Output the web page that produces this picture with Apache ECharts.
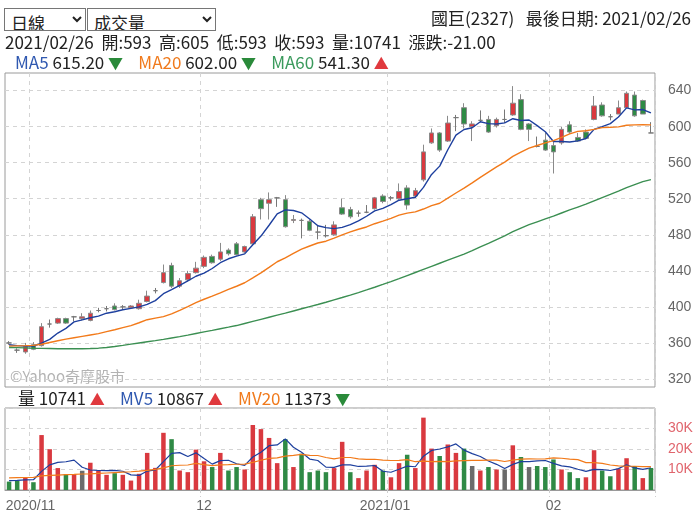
<!DOCTYPE html>
<html><head><meta charset="utf-8">
<script src="https://cdn.jsdelivr.net/npm/echarts@6/dist/echarts.min.js"></script>
<style>
html,body{margin:0;padding:0;background:#fff;}
body{width:700px;height:522px;overflow:hidden;position:relative;font-family:"Noto Sans CJK TC","Liberation Sans",sans-serif;color:#222;}
#chart{position:absolute;left:0;top:0;width:700px;height:522px;}
.hdr{position:absolute;white-space:nowrap;font-size:17px;line-height:20px;}
select{position:absolute;top:8px;height:23px;font-size:17px;font-family:"Noto Sans CJK TC",sans-serif;border:1px solid #767676;background:#fff;color:#222;padding:0 2px;}
.b{color:#2f58b0}.o{color:#f07a1c}.g{color:#3a9a5c}.dn{color:#2a8a3a;font-size:15px}.up{color:#e0393e;font-size:15px}
</style></head>
<body>
<div id="chart"></div>
<select style="left:4px;width:82px;"><option>日線</option></select>
<select style="left:87px;width:129px;"><option>成交量</option></select>
<div class="hdr" style="right:9px;top:8px;">國巨(2327)&nbsp;&nbsp; 最後日期: 2021/02/26</div>
<div class="hdr" style="left:5px;top:32px;">2021/02/26&nbsp; 開:593&nbsp; 高:605&nbsp; 低:593&nbsp; 收:593&nbsp; 量:10741&nbsp; 漲跌:-21.00</div>
<div class="hdr" style="left:15px;top:52px;"><span class="b">MA5</span> 615.20 <span class="dn">▼</span>&nbsp;&nbsp;&nbsp; <span class="o">MA20</span> 602.00 <span class="dn">▼</span>&nbsp;&nbsp;&nbsp; <span class="g">MA60</span> 541.30 <span class="up">▲</span></div>
<div class="hdr" style="left:18px;top:388px;">量 10741 <span class="up">▲</span>&nbsp;&nbsp;&nbsp; <span class="b">MV5</span> 10867 <span class="up">▲</span>&nbsp;&nbsp;&nbsp; <span class="o">MV20</span> 11373 <span class="dn">▼</span></div>
<script>
const dates = ['2020/10/28','2020/10/29','2020/10/30',
'2020/11/02','2020/11/03','2020/11/04','2020/11/05','2020/11/06','2020/11/09','2020/11/10','2020/11/11','2020/11/12','2020/11/13',
'2020/11/16','2020/11/17','2020/11/18','2020/11/19','2020/11/20','2020/11/23','2020/11/24','2020/11/25','2020/11/26','2020/11/27','2020/11/30',
'2020/12/01','2020/12/02','2020/12/03','2020/12/04','2020/12/07','2020/12/08','2020/12/09','2020/12/10','2020/12/11',
'2020/12/14','2020/12/15','2020/12/16','2020/12/17','2020/12/18','2020/12/21','2020/12/22','2020/12/23','2020/12/24','2020/12/25',
'2020/12/28','2020/12/29','2020/12/30','2020/12/31',
'2021/01/04','2021/01/05','2021/01/06','2021/01/07','2021/01/08','2021/01/11','2021/01/12','2021/01/13','2021/01/14','2021/01/15',
'2021/01/18','2021/01/19','2021/01/20','2021/01/21','2021/01/22','2021/01/25','2021/01/26','2021/01/27','2021/01/28','2021/01/29',
'2021/02/01','2021/02/02','2021/02/03','2021/02/04','2021/02/05','2021/02/17','2021/02/18','2021/02/19',
'2021/02/22','2021/02/23','2021/02/24','2021/02/25','2021/02/26'];

const opens  = [360,352,350,358,357,381,382,387,389,387,385,396,398,401,400,399,398,406,418,427,
                446,423,430,438,445,456,453,463,470,461,470,519,515,521,519,496,496,495,483,479,
                480,510,508,504,505,509,523,521,520,532,523,541,582,593,584,610,621,600,607,608,
                601,608,613,630,603,578,585,579,582,602,588,594,608,624,611,614,621,635,629,593];
const closes = [360,352,356,353,378,381,387,382,389,389,393,396,398,397,400,401,404,412,418,438,
                423,429,437,443,455,449,461,459,458,467,500,509,519,521,489,497,496,485,483,479,
                491,503,500,504,505,521,517,521,528,513,529,572,593,574,604,610,603,603,607,594,
                608,608,626,597,597,578,574,572,597,594,584,587,623,612,611,621,637,612,614,593];
const lows   = [358,349,348,352,356,377,381,381,384,385,384,394,395,396,397,398,397,405,415,426,
                421,421,428,437,443,448,451,457,457,460,469,497,497,511,488,493,476,484,475,477,
                479,502,498,500,504,508,515,518,519,508,521,539,581,572,583,595,598,584,605,593,
                599,604,612,596,584,577,573,548,580,592,583,586,607,611,607,614,621,611,614,593];
const highs  = [362,354,360,361,382,386,388,388,390,393,396,399,401,404,402,402,408,418,421,447,
                449,432,440,450,457,458,471,465,472,468,503,521,527,522,524,502,498,497,491,491,
                495,520,511,507,513,522,525,523,537,535,532,580,598,594,612,613,626,606,618,612,
                610,619,645,636,604,589,593,583,600,606,593,597,634,627,614,629,639,639,630,605];
const prevClose0 = 361;

const ma5  = [358,357,356.5,356.5,359.8,364,371,376.2,383.4,385.6,388,389.8,393,394.6,396.8,398.4,400,402.8,407,414.6,
              419.2,424,429,434,437.4,442.6,449,453.4,456.4,458.8,469,478.6,490.6,503.2,507.6,507,504.4,497.6,490,488,
              486.8,488.2,491.2,495.4,500.6,506.6,509.4,513.6,518.4,520,521.6,532.6,547,556.2,574.4,590.6,596.8,598.8,605.4,603.4,
              603,604.2,608.8,606.8,607.4,601.2,594.4,583.6,583.6,583,584.2,586.8,597,600,603.4,610.8,620.8,618.6,619,615.2];
const ma20 = [356.5,356.8,357,357.3,358.5,360.5,362.5,364.3,365.8,367.3,368.8,370.3,372.5,374.7,377,379.2,382.4,385.8,387.5,389.2,
              392.3,396.2,400.2,404.7,408.5,411.9,415.6,419.4,422.9,426.8,432.2,437.8,443.9,450.1,454.5,459.4,464,467.6,470.9,472.9,
              476.3,480,483.2,486.2,488.7,492.3,495.1,498.3,501.8,504.1,505.5,508.6,512.3,515,520.7,526.4,531.7,537.6,543.8,549.6,
              555.4,560.7,567,571.6,576.2,579.1,582,584.5,588,592,594.8,595.5,597,598.9,599.3,599.8,601.5,602,602.3,602];
const ma60 = [355,354.8,354.5,354.2,354,353.8,353.6,353.5,353.5,353.6,353.8,354.2,355,356,357.3,358.7,360,361.3,362.6,364,
              365.5,367,368.7,370.5,372.3,374,375.8,377.5,379.3,381.6,383.9,386.2,388.5,390.8,393.1,395.5,397.9,400.3,402.7,405.2,
              407.8,410.4,413.1,415.9,418.8,421.8,424.9,428.1,431.4,434.8,438.2,441.6,445,448.4,451.8,455.2,458.6,462.4,466.5,470.5,
              474.7,478.9,483.4,487.5,491.2,494.4,497.6,500.7,504.2,507.6,510.8,514,517.7,521.3,524.8,528.5,532.4,535.7,539,541.3];

const volumes = [4100,4600,6200,3800,26800,19900,10700,7700,7700,9400,13300,9400,7400,8200,7400,4600,7900,18100,10800,27900,
                 24800,9500,8700,19700,14000,11200,18100,9500,11200,10000,31700,29700,25400,13100,24800,11200,17700,8700,9500,8700,
                 10700,23500,8700,5800,9500,12300,9500,6200,13100,17200,10700,35300,20200,16600,22200,18100,20200,11700,9500,11200,
                 10000,10000,21800,16100,11200,11700,11200,14900,10000,8700,5800,6200,19400,9500,6700,10400,15500,11700,5800,10741];
const mv5  = [4600,4700,4900,5000,9100,12260,13480,13780,14560,11080,9760,9500,9440,9540,9140,7400,7100,9240,9760,13860,
              17900,18220,16340,18120,15340,12620,14340,14500,12800,12000,16100,18420,21600,21980,24940,20840,18440,15100,14380,11160,
              11060,12220,12220,11480,11640,11960,9160,8660,10120,11660,11340,16500,19300,20000,21000,22480,19460,17760,16340,14140,
              12520,10480,12500,13820,13820,14160,14400,13020,11800,11300,10120,9120,10020,9920,9520,10440,12300,10760,10020,10867];
const mv20 = [5900,6000,6100,6200,6900,7100,7300,7500,7600,7800,7900,8100,8300,8500,8700,8900,9200,9600,10100,10800,
              11830,12080,12200,13000,12360,11920,12290,12380,12560,12590,13500,14520,15420,15670,16540,16870,17360,16890,16820,15860,
              15160,15860,15860,15160,14940,14990,14560,14400,14490,14850,13800,14080,13820,14000,13870,14210,14340,14490,14490,14610,
              14580,13900,14560,15070,15160,15130,15210,15650,15490,15070,14820,13370,13330,12970,12200,11810,11580,11580,11390,11373];

const tickDates  = ['2020/11/02','2020/12/01','2021/01/04','2021/02/01'];
const tickLabels = ['2020/11','12','2021/01','02'];

const RED = '#d9393f', GREEN = '#2f8a45', GRAY = '#6b6b6b';
const tickIdx = tickDates.map(d => dates.indexOf(d));
const labelStyleKeys = ['s3', 's0', 's6', 's0'];
const candleData = dates.map((d, i) => [opens[i], closes[i], lows[i], highs[i]]);
const volData = volumes.map((v, i) => {
  const prev = i === 0 ? prevClose0 : closes[i - 1];
  const c = closes[i] > prev ? RED : (closes[i] < prev ? GREEN : GRAY);
  return { value: v, itemStyle: { color: c } };
});
const isTick = (idx) => tickIdx.indexOf(idx) >= 0;
const dash = { type: [4, 4], color: '#d4d4d4', width: 1 };

const chart = echarts.init(document.getElementById('chart'), null, { renderer: 'canvas' });
chart.setOption({
  animation: false,
  textStyle: { fontFamily: 'Liberation Sans, Noto Sans CJK TC, sans-serif' },
  grid: [
    { left: 5, top: 73, width: 650, height: 314, show: true, borderColor: '#9a9a9a', borderWidth: 1, backgroundColor: 'transparent' },
    { left: 5, top: 90.6, width: 650, height: 288.4 },
    { left: 5, top: 408, width: 650, height: 82, show: true, borderColor: '#9a9a9a', borderWidth: 1, backgroundColor: 'transparent' }
  ],
  xAxis: [
    { type: 'category', gridIndex: 0, data: dates, boundaryGap: true,
      axisLine: { show: false }, axisTick: { show: false }, axisLabel: { show: false },
      splitLine: { show: true, interval: (i) => isTick(i), lineStyle: dash } },
    { type: 'category', gridIndex: 1, data: dates, boundaryGap: true, show: false },
    { type: 'category', gridIndex: 2, data: dates, boundaryGap: true,
      axisLine: { show: true, lineStyle: { color: '#9a9a9a' } },
      axisTick: { show: true, interval: (i) => isTick(i), length: 7, lineStyle: { color: '#cfcfcf', type: [3, 3] } },
      axisLabel: { show: true, interval: (i) => isTick(i), color: '#666', fontSize: 14, margin: 9,
        rich: { s0: { color: '#666', fontSize: 14 }, s3: { color: '#666', fontSize: 14, padding: [0, 6, 0, 0] }, s6: { color: '#666', fontSize: 14, padding: [0, 12, 0, 0] } },
        formatter: (v) => { const k = tickDates.indexOf(v); return k >= 0 ? '{' + labelStyleKeys[k] + '|' + tickLabels[k] + '}' : ''; } },
      splitLine: { show: true, interval: (i) => isTick(i), lineStyle: dash } }
  ],
  yAxis: [
    { type: 'value', gridIndex: 0, show: false, min: 0, max: 1, splitLine: { show: false } },
    { type: 'value', gridIndex: 1, position: 'right', min: 320, max: 640, interval: 40, scale: true,
      axisLine: { show: false }, axisTick: { show: false },
      axisLabel: { color: '#666', fontSize: 14, margin: 13 },
      splitLine: { show: true, lineStyle: dash } },
    { type: 'value', gridIndex: 2, position: 'right', min: 0, max: 40000, interval: 10000,
      axisLine: { show: false }, axisTick: { show: false },
      axisLabel: { color: '#e0656d', fontSize: 14, margin: 13, showMinLabel: false, showMaxLabel: false,
        formatter: (v) => (v / 1000) + 'K' },
      splitLine: { show: true, lineStyle: dash } }
  ],
  series: [
    { type: 'candlestick', xAxisIndex: 1, yAxisIndex: 1, data: candleData, barWidth: 5, clip: false,
      itemStyle: { color: RED, color0: GREEN, borderColor: '#8a8a8a', borderColor0: '#8a8a8a', borderColorDoji: '#777', borderWidth: 1 } },
    { type: 'line', name: 'MA5', xAxisIndex: 1, yAxisIndex: 1, data: ma5, showSymbol: false, clip: false,
      lineStyle: { color: '#1d3f9e', width: 1.4 } },
    { type: 'line', name: 'MA20', xAxisIndex: 1, yAxisIndex: 1, data: ma20, showSymbol: false, clip: false,
      lineStyle: { color: '#f27a1a', width: 1.4 } },
    { type: 'line', name: 'MA60', xAxisIndex: 1, yAxisIndex: 1, data: ma60, showSymbol: false, clip: false,
      lineStyle: { color: '#3b8f52', width: 1.4 } },
    { type: 'bar', xAxisIndex: 2, yAxisIndex: 2, data: volData, barWidth: 4.5 },
    { type: 'line', name: 'MV5', xAxisIndex: 2, yAxisIndex: 2, data: mv5, showSymbol: false,
      lineStyle: { color: '#1d3f9e', width: 1.2 } },
    { type: 'line', name: 'MV20', xAxisIndex: 2, yAxisIndex: 2, data: mv20, showSymbol: false,
      lineStyle: { color: '#f27a1a', width: 1.2 } }
  ],
  graphic: [
    { type: 'text', left: 10, top: 369, style: { text: '©Yahoo奇摩股市', fill: '#b3b3b3', fontSize: 15, fontFamily: 'Noto Sans CJK TC, sans-serif' } }
  ]
});
</script>
</body></html>
